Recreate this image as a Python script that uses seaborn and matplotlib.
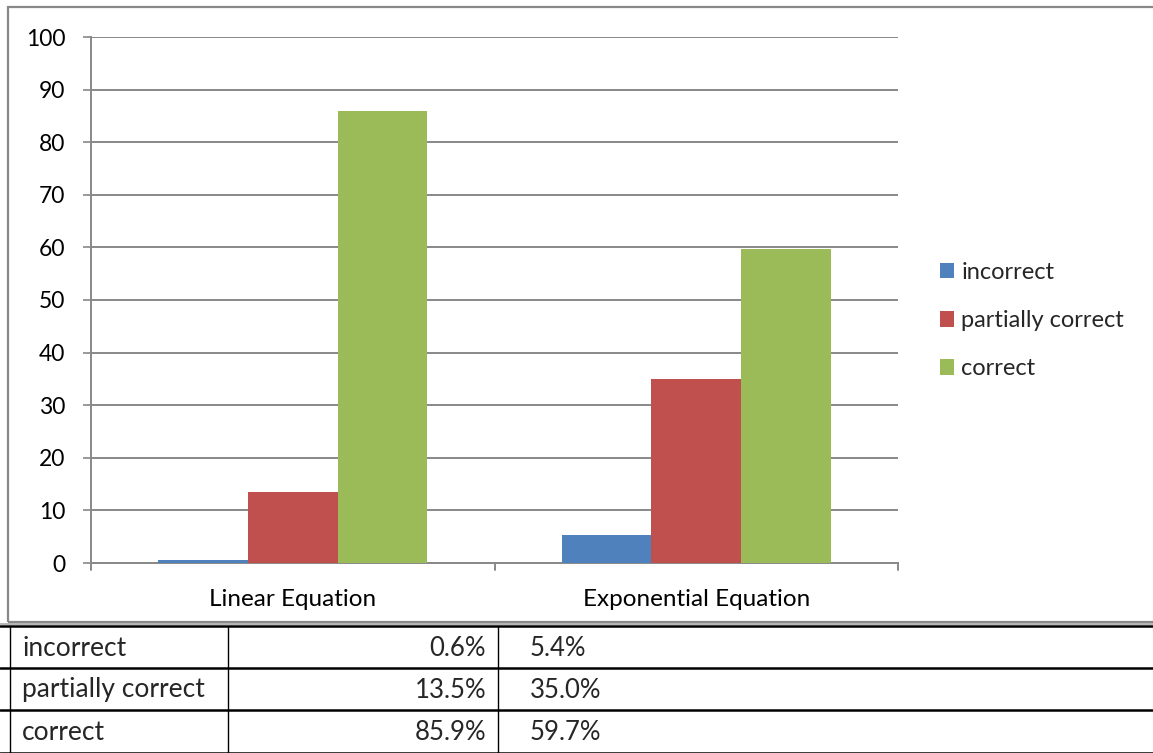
import matplotlib
matplotlib.use("Agg")
import matplotlib.pyplot as plt
from matplotlib.lines import Line2D
from matplotlib.patches import Rectangle
import seaborn as sns
import pandas as pd

equations = ["Linear Equation", "Exponential Equation"]
outcomes = ["incorrect", "partially correct", "correct"]
linear_pct = [0.6, 13.5, 85.9]
exponential_pct = [5.4, 35.0, 59.7]
colors = ["#4F81BD", "#C0504D", "#9BBB59"]
y_ticks = [0, 10, 20, 30, 40, 50, 60, 70, 80, 90, 100]

rows = []
for eq, vals in zip(equations, [linear_pct, exponential_pct]):
    for oc, v in zip(outcomes, vals):
        rows.append({"equation": eq, "outcome": oc, "pct": v})
df = pd.DataFrame(rows)

sns.set_theme(style="white")
plt.rcParams["font.family"] = ["Lato", "DejaVu Sans"]

W, H = 1153, 753
fig = plt.figure(figsize=(W / 100, H / 100), dpi=100)

def fx(px):
    return px / W

def fy(py):
    return 1 - py / H

ax = fig.add_axes([fx(91), fy(563), fx(898) - fx(91), fy(37) - fy(563)])
sns.barplot(data=df, x="equation", y="pct", hue="outcome", order=equations,
            hue_order=outcomes, palette=colors, width=0.667, gap=0,
            saturation=1, edgecolor="none", linewidth=0, ax=ax, zorder=3)

ax.set_ylim(0, 100)
ax.set_xlim(-0.5, 1.5)
ax.set_yticks(y_ticks)
ax.set_yticklabels([str(t) for t in y_ticks], fontsize=16.5, color="#000000")
ax.yaxis.grid(True, color="#888888", linewidth=1.4, zorder=0)
ax.set_axisbelow(True)
ax.set_xlabel("")
ax.set_ylabel("")
ax.tick_params(axis="x", length=0, labelsize=17.5, pad=19, colors="#000000")
ax.tick_params(axis="y", length=6, width=1.2, color="#888888", pad=12.5,
               direction="out", left=True)
for side in ["top", "right"]:
    ax.spines[side].set_visible(False)
ax.spines["left"].set_color("#888888")
ax.spines["left"].set_linewidth(1.4)
ax.spines["bottom"].set_color("#888888")
ax.spines["bottom"].set_linewidth(1.4)

# category separators below the baseline
for xpos in [-0.5, 0.5, 1.5]:
    ax.plot([xpos, xpos], [0, -1.4], color="#888888", lw=1.4, clip_on=False, zorder=4)

leg = ax.legend(loc="upper left", bbox_to_anchor=(1.04, 0.59), frameon=False,
                fontsize=17, handlelength=0.62, handleheight=0.62, handletextpad=0.3,
                labelspacing=1.15, borderaxespad=0)

# chart border
fig.add_artist(Rectangle((fx(8), fy(622)), fx(1170) - fx(8), fy(7) - fy(622),
                         transform=fig.transFigure, fill=False,
                         edgecolor="#888888", linewidth=1.6))
fig.add_artist(Line2D([0, 1], [fy(623.5), fy(623.5)], transform=fig.transFigure,
                      color="#aaaaaa", lw=1.2))

# data table underneath
row_edges = [626, 668, 710, 753]
for y in row_edges:
    fig.add_artist(Line2D([0, 1], [fy(y), fy(y)], transform=fig.transFigure,
                          color="black", lw=1.8))
for xv in [10, 228, 498]:
    fig.add_artist(Line2D([fx(xv), fx(xv)], [fy(626), fy(753)],
                          transform=fig.transFigure, color="black", lw=1.0))
for i, oc in enumerate(outcomes):
    yc = fy((row_edges[i] + row_edges[i + 1]) / 2 + 1)
    fig.text(fx(22), yc, oc, fontsize=19, va="center", ha="left")
    fig.text(fx(486), yc, f"{linear_pct[i]:.1f}%", fontsize=18.5, va="center", ha="right")
    fig.text(fx(530), yc, f"{exponential_pct[i]:.1f}%", fontsize=18.5, va="center", ha="left")

fig.savefig("out.png", dpi=100)
